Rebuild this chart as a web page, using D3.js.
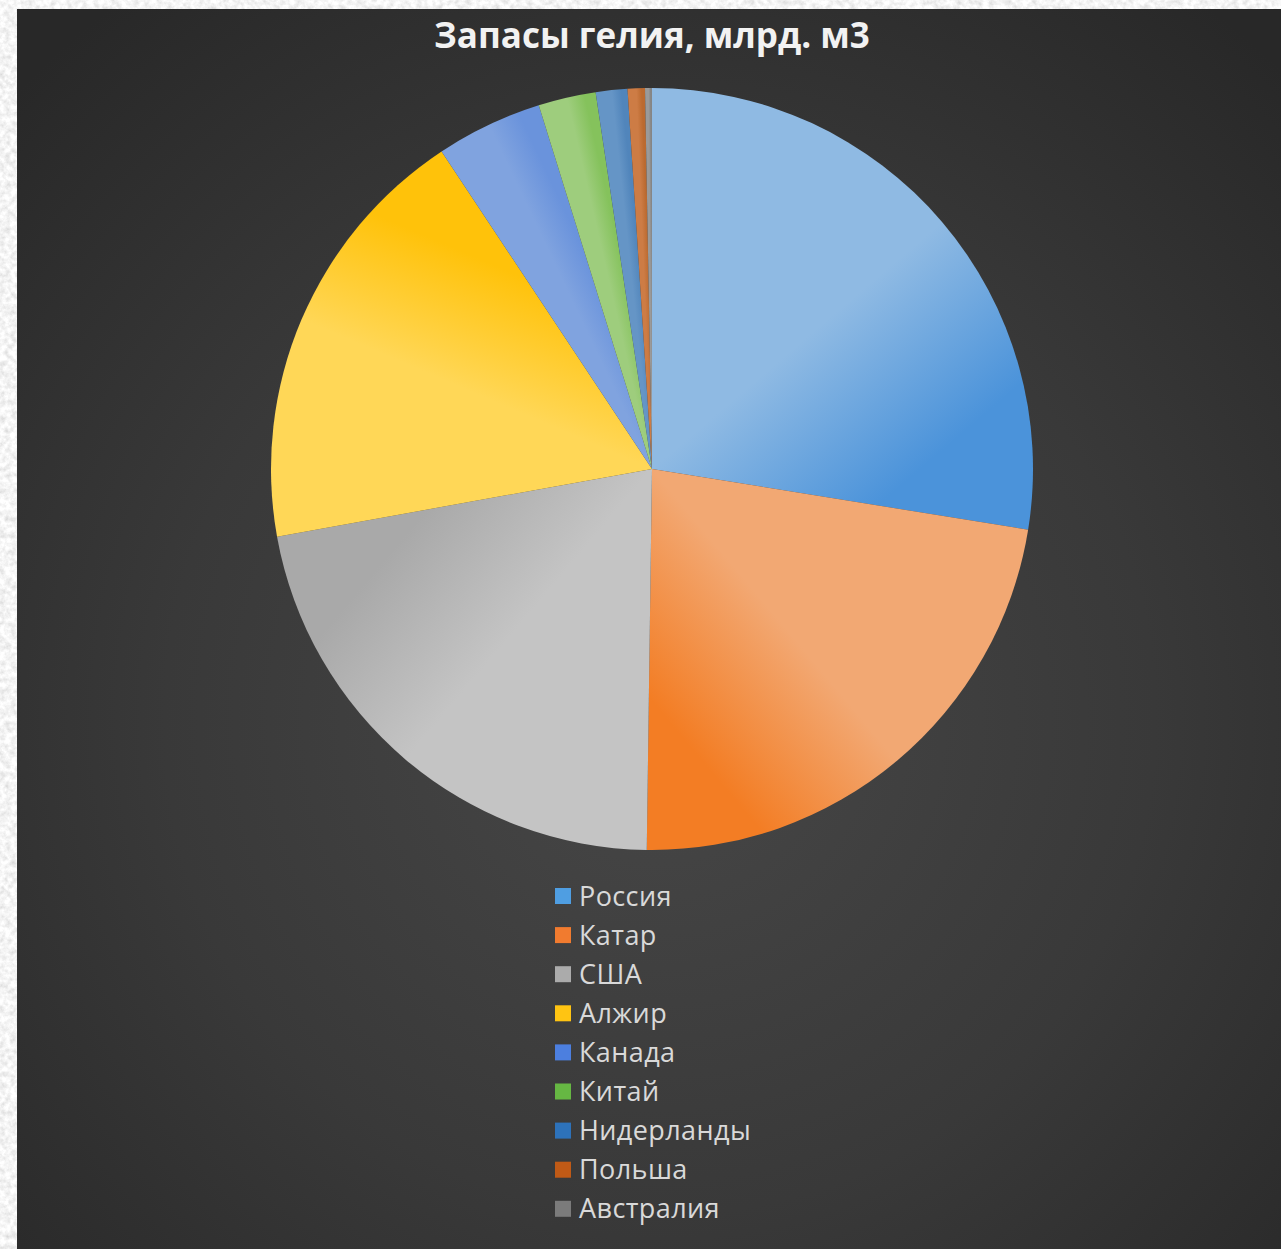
<!DOCTYPE html>
<html>
<head>
<meta charset="utf-8">
<script src="https://cdn.jsdelivr.net/npm/d3@7"></script>
<style>
  html, body { margin: 0; padding: 0; background: #e8e8e8; overflow: hidden; }
  svg { display: block; }
</style>
</head>
<body>
<svg id="chart" width="1281" height="1249"></svg>
<script>
// Helium reserves by country, billion cubic metres
const chartTitle = "Запасы гелия, млрд. м3";
const countries = ["Россия", "Катар", "США", "Алжир", "Канада", "Китай", "Нидерланды", "Польша", "Австралия"];
const reserves = [11.3, 9.3, 9.0, 7.6, 1.85, 1.0, 0.55, 0.3, 0.12];

// Slice fills run from a light tint at the leading edge to a deep tone at the trailing edge
const lightTints = ["#8fbae3", "#f2a873", "#c4c4c4", "#ffd757", "#80a3df", "#9ecd7d", "#6595c6", "#cd7c45", "#9a9a9a"];
const deepTones  = ["#4b93da", "#f37d24", "#a9a9a9", "#ffc20a", "#6a93dc", "#85c25c", "#5185bb", "#bb6a30", "#858585"];
const legendFills = ["#4f9ee2", "#f17b2f", "#ababab", "#ffc412", "#4c7fdf", "#66b743", "#2d72ba", "#c05a16", "#7b7b7b"];

const W = 1281, H = 1249;
const cx = 652, cy = 469, radius = 381;

const svg = d3.select("#chart");
const defs = svg.append("defs");

// Light stone backdrop around the panel
const stone = defs.append("filter").attr("id", "stone")
  .attr("x", 0).attr("y", 0).attr("width", "100%").attr("height", "100%");
stone.append("feTurbulence").attr("type", "fractalNoise")
  .attr("baseFrequency", 0.18).attr("numOctaves", 4).attr("seed", 7).attr("result", "noise");
stone.append("feColorMatrix").attr("in", "noise").attr("type", "matrix")
  .attr("values", "0.5 0 0 0 0.66  0.5 0 0 0 0.66  0.5 0 0 0 0.66  0 0 0 0 1");
svg.append("rect").attr("width", W).attr("height", H).attr("fill", "#ececec").attr("filter", "url(#stone)");

// Dark panel with a soft central glow
const glow = defs.append("radialGradient").attr("id", "panelGlow")
  .attr("gradientUnits", "userSpaceOnUse")
  .attr("cx", 660).attr("cy", 720).attr("r", 900);
glow.append("stop").attr("offset", 0).attr("stop-color", "#474747");
glow.append("stop").attr("offset", 0.55).attr("stop-color", "#393939");
glow.append("stop").attr("offset", 1).attr("stop-color", "#282828");
svg.append("rect").attr("x", 17).attr("y", 9).attr("width", W - 17).attr("height", H - 9)
  .attr("fill", "url(#panelGlow)");

// Title
svg.append("text")
  .attr("x", cx).attr("y", 48)
  .attr("text-anchor", "middle")
  .attr("font-family", "'Open Sans', 'Noto Sans', sans-serif")
  .attr("font-weight", 700)
  .attr("font-size", 35)
  .attr("fill", "#f2f2f2")
  .text(chartTitle);

// Pie
const pie = d3.pie().sort(null).value(d => d);
const arcs = pie(reserves);

arcs.forEach((a, i) => {
  const rr = radius * 0.6;
  const g = defs.append("linearGradient").attr("id", "slice" + i)
    .attr("gradientUnits", "userSpaceOnUse")
    .attr("x1", cx + rr * Math.sin(a.startAngle)).attr("y1", cy - rr * Math.cos(a.startAngle))
    .attr("x2", cx + rr * Math.sin(a.endAngle)).attr("y2", cy - rr * Math.cos(a.endAngle));
  g.append("stop").attr("offset", 0).attr("stop-color", lightTints[i]);
  g.append("stop").attr("offset", 0.5).attr("stop-color", lightTints[i]);
  g.append("stop").attr("offset", 1).attr("stop-color", deepTones[i]);
});

// slices drawn in page coordinates so the user-space gradients line up
const arc = d3.arc().innerRadius(0).outerRadius(radius);
svg.append("g").attr("transform", `translate(${cx},${cy})`)
  .selectAll("path.slice")
  .data(arcs)
  .join("path")
  .attr("class", "slice")
  .attr("d", arc)
  .attr("fill", (d, i) => `url(#slice${i})`)
  .each(function () {
    // gradients are in page space; shift them into the group's space
    const id = d3.select(this).attr("fill").slice(5, -1);
    d3.select("#" + id).attr("gradientTransform", `translate(${-cx},${-cy})`);
  });

// Legend
const legendX = 555, legendTop = 896, legendStep = 39.1, sw = 16;
const rows = svg.append("g").selectAll("g.row")
  .data(countries)
  .join("g")
  .attr("class", "row")
  .attr("transform", (d, i) => `translate(${legendX},${legendTop + i * legendStep})`);
rows.append("rect")
  .attr("x", 0).attr("y", -sw / 2)
  .attr("width", sw).attr("height", sw)
  .attr("fill", (d, i) => legendFills[i]);
rows.append("text")
  .attr("x", 24).attr("y", 9.5)
  .attr("font-family", "'Open Sans', 'Noto Sans', sans-serif")
  .attr("font-size", 27)
  .attr("letter-spacing", 0.4)
  .attr("fill", "#d9d9d9")
  .text(d => d);
</script>
</body>
</html>
